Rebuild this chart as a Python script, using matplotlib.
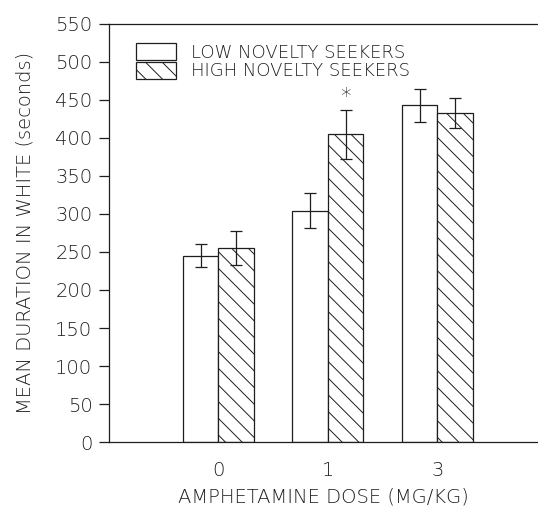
import numpy as np
from matplotlib import pyplot as plt

plt.rcParams['font.family'] = ['DejaVu Sans']
plt.rcParams['font.weight'] = 'light'
plt.rcParams['axes.labelweight'] = 'light'
plt.rcParams['hatch.linewidth'] = 0.7

doses = ["0", "1", "3"]
low_means = [245, 304, 443]
low_err = [15, 23, 22]
high_means = [255, 405, 433]
high_err = [22, 32, 20]
star_dose = "1"

ink = '#1e1e1e'
fig = plt.figure(figsize=(5.38, 5.18), dpi=100)
ax = fig.add_axes([0.2026, 0.1467, 0.7974, 0.807])

x = np.arange(len(doses))
w = 0.325
ax.bar(x - w / 2, low_means, w, color='white', edgecolor=ink, linewidth=0.9,
       label='LOW NOVELTY SEEKERS')
ax.bar(x + w / 2, high_means, w, color='white', edgecolor=ink, hatch='\\\\',
       linewidth=0.9, label='HIGH NOVELTY SEEKERS')
ax.errorbar(x - w / 2, low_means, yerr=low_err, fmt='none', ecolor=ink,
            elinewidth=0.9, capsize=4, capthick=0.9)
ax.errorbar(x + w / 2, high_means, yerr=high_err, fmt='none', ecolor=ink,
            elinewidth=0.9, capsize=4, capthick=0.9)

# asterisk over the significant group
i = doses.index(star_dose)
ax.text(x[i] + w / 2, high_means[i] + high_err[i] + 4, '*', ha='center',
        va='bottom', fontsize=15, color=ink)

ax.set_xlim(-1.0, 2.92)
ax.set_ylim(0, 550)
ax.set_yticks(range(0, 551, 50))
ax.set_xticks(x)
ax.set_xticklabels(doses)
ax.tick_params(axis='x', length=0, pad=14, labelsize=14, colors=ink)
ax.tick_params(axis='y', length=7, width=0.9, pad=5, labelsize=14, colors=ink)
for s in ['left', 'bottom', 'top']:
    ax.spines[s].set_color(ink)
    ax.spines[s].set_linewidth(0.9)
ax.spines['right'].set_visible(False)

ax.set_ylabel('MEAN DURATION IN WHITE (seconds)', fontsize=14, color=ink,
              labelpad=15)
ax.set_xlabel('AMPHETAMINE DOSE (MG/KG)', fontsize=14, color=ink, labelpad=5)

leg = ax.legend(loc='upper left', bbox_to_anchor=(0.063, 0.955),
                frameon=False, fontsize=13, handlelength=2.2,
                handleheight=1.1, labelspacing=0, handletextpad=0.85,
                borderpad=0, borderaxespad=0)
for t in leg.get_texts():
    t.set_color(ink)

fig.savefig('out.png', dpi=100)
